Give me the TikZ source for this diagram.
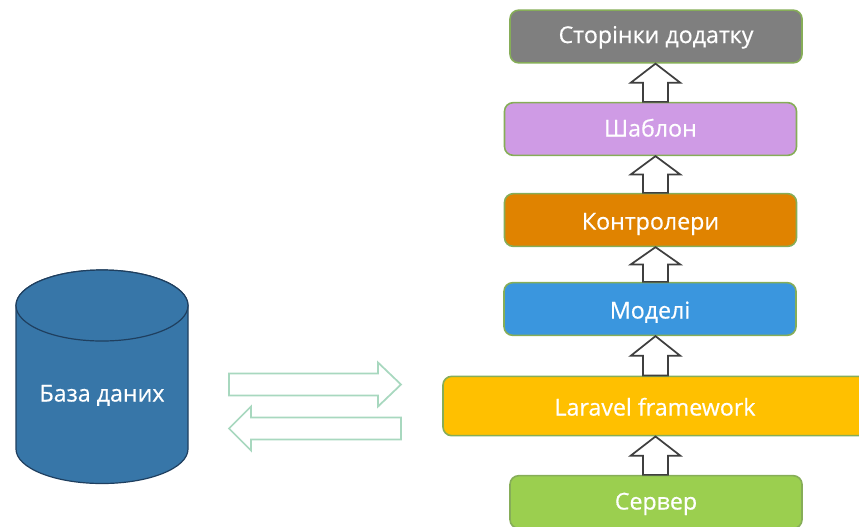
\documentclass[tikz,border=0pt]{standalone}
\usepackage{fontspec}
\setmainfont{Open Sans}
\newfontfamily\labelfont[RawFeature={embolden=0.5}]{Open Sans}
\usetikzlibrary{calc}
\definecolor{cgrey}{HTML}{7F7F7F}
\definecolor{cpurple}{HTML}{CF9BE5}
\definecolor{corange}{HTML}{E08300}
\definecolor{cblue}{HTML}{3A96DE}
\definecolor{cyellow}{HTML}{FFC000}
\definecolor{cgreen}{HTML}{9BCF4F}
\definecolor{cborder}{HTML}{86AD58}
\definecolor{ccyl}{HTML}{3776A8}
\definecolor{ccylb}{HTML}{1F3F5F}
\definecolor{cga}{HTML}{A8D8BF}
\definecolor{cua}{HTML}{3F3F3F}
\tikzset{
  labeltext/.style={text=white,font=\labelfont\fontsize{17.4}{20}\selectfont,text height=13pt,text depth=3.2pt},
  layerbox/.style={draw=cborder,line width=1.2pt,rounded corners=6.5pt,inner sep=0pt,
    minimum width=219pt,minimum height=39.5pt,labeltext},
  lowertext/.style={text height=#1},
  uparrow/.style={draw=cua,fill=white,line width=1.3pt,line join=miter},
  greenarrow/.style={draw=cga,fill=white,line width=1.3pt,line join=miter},
  cyl/.style={draw=ccylb,fill=ccyl,line width=0.9pt},
  cyllabel/.style={labeltext,inner sep=0pt}
}
% block arrow from the top of #1 to the bottom of #2
\newcommand{\uparr}[2]{%
  \path let \p1=(apex |- #1.north), \p2=(apex |- #2.south), \n1={0.5*(\y1+\y2)} in
    coordinate (tipp) at (\p2) coordinate (basep) at (\p1) coordinate (midp) at (\x1,\n1);
  \draw[uparrow] ($(basep)+(-9.3pt,0)$) -- ($(midp)+(-9.3pt,0)$) -- ($(midp)+(-18.6pt,0)$)
    -- (tipp) -- ($(midp)+(18.6pt,0)$) -- ($(midp)+(9.3pt,0)$) -- ($(basep)+(9.3pt,0)$) -- cycle;
}
\begin{document}
\begin{tikzpicture}[x=0.75pt,y=-0.75pt]
\useasboundingbox (0,0) rectangle (859,526);
\clip (0,0) rectangle (859,526);
\coordinate (apex) at (655.5,0);
% boxes
\node[layerbox,fill=cgrey] (pages) at (656,36.5) {Сторінки додатку};
\node[layerbox,fill=cpurple,lowertext=14.5pt] (tmpl) at (650.5,129) {Шаблон};
\node[layerbox,fill=corange,lowertext=17.5pt] (ctrl) at (650.5,220) {Контролери};
\node[layerbox,fill=cblue,lowertext=17.5pt] (models) at (650,309) {Моделі};
\node[layerbox,fill=cyellow,minimum width=318pt,minimum height=44.5pt,lowertext=17.5pt] (laravel) at (655,406) {Laravel framework};
\node[layerbox,fill=cgreen,lowertext=14.5pt] (server) at (656,502) {Сервер};
% block arrows
\uparr{server}{laravel}
\uparr{laravel}{models}
\uparr{models}{ctrl}
\uparr{ctrl}{tmpl}
\uparr{tmpl}{pages}
% cylinder
\draw[cyl] (16,305.5) -- (16,449) arc[start angle=180,end angle=0,x radius=86,y radius=34.5]
  -- (188,305.5) arc[start angle=0,end angle=-180,x radius=86,y radius=35.5] -- cycle;
\draw[cyl] (102,305.5) ellipse[x radius=86,y radius=35.5];
\node[cyllabel,lowertext=14.5pt] (db) at (102,394) {База даних};
% double arrows
\coordinate (ra) at (229,384.5);
\coordinate (rb) at (401,384.5);
\coordinate (la) at (229,428.5);
\coordinate (lb) at (401,428.5);
\draw[greenarrow] ($(ra)+(0,-11)$) -- ($(rb)+(-23,-11)$) -- ($(rb)+(-23,-22)$) -- (rb)
  -- ($(rb)+(-23,22)$) -- ($(rb)+(-23,11)$) -- ($(ra)+(0,11)$) -- cycle;
\draw[greenarrow] ($(lb)+(0,-11)$) -- ($(la)+(22,-11)$) -- ($(la)+(22,-22)$) -- (la)
  -- ($(la)+(22,22)$) -- ($(la)+(22,11)$) -- ($(lb)+(0,11)$) -- cycle;
\end{tikzpicture}
\end{document}
